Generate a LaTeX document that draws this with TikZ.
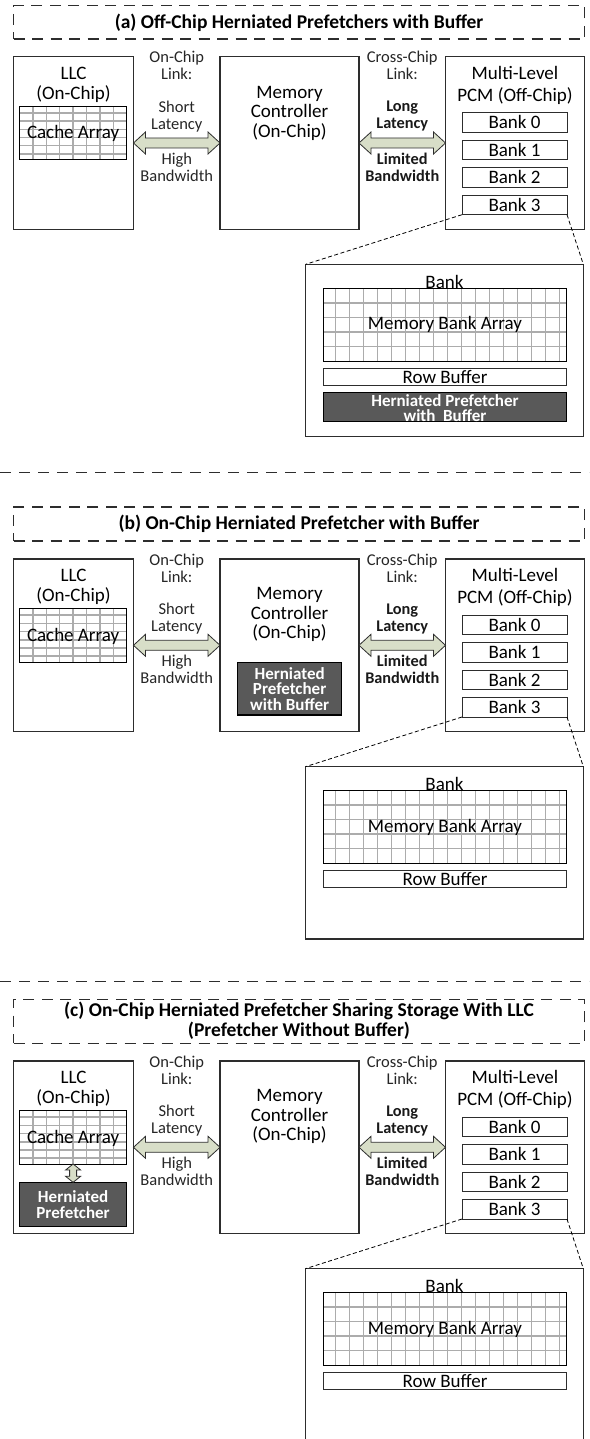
\documentclass[tikz,border=0pt]{standalone}
\usepackage{fontspec}
\setmainfont{Carlito}
\usetikzlibrary{calc,fit}
\definecolor{arrowfill}{RGB}{216,222,200}
\definecolor{darkfill}{RGB}{89,89,89}
\definecolor{outline}{RGB}{45,45,45}
\tikzset{
  box/.style={draw=outline, line width=1.2pt, inner sep=0pt, outer sep=0pt},
  darkbox/.style={box, draw=black, fill=darkfill},
  gridbox/.style={draw=black, line width=1pt, inner sep=0pt, outer sep=0pt},
  gridln/.style={draw=gray!65, line width=1.5pt},
  titlebox/.style={draw=outline, line width=1.4pt, dash pattern=on 11pt off 7.5pt, inner sep=0pt, outer sep=0pt},
  sepln/.style={draw=outline, line width=1.4pt, dash pattern=on 11pt off 8pt},
  zoomln/.style={draw=black, line width=0.8pt, dash pattern=on 4pt off 2.5pt},
  fatarr/.style={draw=outline, line width=0.8pt, fill=arrowfill, line join=miter},
  maintext/.style={inner sep=0pt, align=center, font=\fontsize{19}{20.5}\selectfont},
  linktext/.style={inner sep=0pt, align=center, text=black!85, font=\fontsize{16.5}{17}\selectfont},
  linkbold/.style={inner sep=0pt, align=center, text=black!90, font=\bfseries\fontsize{16.3}{17}\selectfont},
  titletext/.style={inner sep=0pt, align=center, font=\bfseries\fontsize{19.5}{19.5}\selectfont},
  hptext/.style={inner sep=0pt, align=center, text=white, font=\bfseries\fontsize{17}{15.5}\selectfont}
}
\newcommand{\panelbase}[1]{%
  % LLC
  \node[box, fit={(13.5,0) (133.5,172.6)}] (#1llc) {};
  \node[maintext] (#1llct) at (73.5,28) {LLC\\(On-Chip)};
  \foreach \k in {1,...,7} \draw[gridln] (19.5+13.4*\k,49.5) -- (19.5+13.4*\k,103);
  \foreach \h in {6.7,14.9,23.1,31.3,39.5,47.7} \draw[gridln] (19.5,49.5+\h) -- (126.7,49.5+\h);
  \node[gridbox, fit={(19.5,49.5) (126.7,103)}] (#1cache) {};
  \node[maintext] (#1cachet) at (73.1,77) {Cache Array};
  % Memory controller
  \node[box, fit={(220,0) (359,172.6)}] (#1mc) {};
  % PCM
  \node[box, fit={(445.5,0) (584.6,172.6)}] (#1pcm) {};
  \node[maintext, font=\fontsize{19}{22}\selectfont] (#1pcmt) at (515,28.3) {Multi-Level\\PCM (Off-Chip)};
  \foreach \i in {0,1,2,3} {
    \node[box, line width=1pt, fit={(462,56+27.5*\i) (567,75.5+27.5*\i)}] (#1b\i) {};
    \node[maintext] (#1b\i t) at (#1b\i.center) {Bank \i};
  }
  % link texts
  \node[linktext] (#1ol) at (176.75,9) {On-Chip\\Link:};
  \node[linktext] (#1ollat) at (176.75,59.5) {Short\\Latency};
  \node[linktext] (#1olbw) at (176.75,110.3) {High\\Bandwidth};
  \node[linktext] (#1cl) at (402.25,9) {Cross-Chip\\Link:};
  \node[linkbold] (#1cllat) at (402.25,59.5) {Long\\Latency};
  \node[linkbold] (#1clbw) at (402.25,110.3) {Limited\\Bandwidth};
  % bank detail
  \node[box, fit={(305.7,207.6) (583.3,380)}] (#1bank) {};
  \node[maintext] (#1bankt) at (444.5,225) {Bank};
  \foreach \k in {0,...,16} \draw[gridln] (335.7+14*\k,231.6) -- (335.7+14*\k,304.3);
  \foreach \h in {14.5,29,43.5,58} \draw[gridln] (323.3,231.6+\h) -- (566.7,231.6+\h);
  \node[gridbox, fit={(323.3,231.6) (566.7,304.3)}] (#1mba) {};
  \node[maintext] (#1mbat) at (#1mba.center) {Memory Bank Array};
  \node[box, line width=1pt, fit={(323.3,311.6) (566.7,328.3)}] (#1rb) {};
  \node[maintext] (#1rbt) at (#1rb.center) {Row Buffer};
}
\newcommand{\fatarrow}[2]{%
  \draw[fatarr] let \p1=(#1.east), \p2=(#2.west) in
    (\x1,\y1) -- (\x1+12pt,\y1+11pt) -- (\x1+12pt,\y1+5pt) -- (\x2-12pt,\y1+5pt)
    -- (\x2-12pt,\y1+11pt) -- (\x2,\y1) -- (\x2-12pt,\y1-11pt) -- (\x2-12pt,\y1-5pt)
    -- (\x1+12pt,\y1-5pt) -- (\x1+12pt,\y1-11pt) -- cycle;}
\newcommand{\zoomlines}[1]{%
  \draw[zoomln] (#1b3.south west) -- (#1bank.north west);
  \draw[zoomln] (#1b3.south east) -- (#1bank.north east);}
\begin{document}
\begin{tikzpicture}[x=1pt,y=-1pt]
\useasboundingbox[fill=white] (0,0) rectangle (589,1439);
% ---------- (a)
\begin{scope}[yshift=-56.7pt]
  \panelbase{a}
  \node[titlebox, fit={(13.5,-51) (584.6,-17.5)}] (atitle) {};
  \node[titletext] (atitlet) at (atitle.center) {(a) Off-Chip Herniated Prefetchers with Buffer};
  \node[maintext, font=\fontsize{19}{19.3}\selectfont] (amct) at (289.5,56.5) {Memory\\Controller\\(On-Chip)};
  \node[darkbox, fit={(323.3,335.6) (566.7,365)}] (ahp) {};
  \node[hptext, font=\bfseries\fontsize{17}{15.5}\selectfont] (ahpt) at (445,351.3) {Herniated Prefetcher\\with\ \ Buffer};
\end{scope}
\draw[sepln] (0,472.3) -- (589,472.3);
% ---------- (b)
\begin{scope}[yshift=-559pt]
  \panelbase{b}
  \node[titlebox, fit={(13.5,-52) (584.6,-18)}] (btitle) {};
  \node[titletext] (btitlet) at (btitle.center) {(b) On-Chip Herniated Prefetcher with Buffer};
  \node[maintext, font=\fontsize{19}{19.3}\selectfont] (bmct) at (289.5,55.5) {Memory\\Controller\\(On-Chip)};
  \node[darkbox, fit={(237.6,103.3) (341.7,156)}] (bhp) {};
  \node[hptext] (bhpt) at (bhp.center) {Herniated\\Prefetcher\\with Buffer};
\end{scope}
\draw[sepln] (0,981.7) -- (589,981.7);
% ---------- (c)
\begin{scope}[yshift=-1061pt]
  \panelbase{c}
  \node[titlebox, fit={(13.5,-61.7) (584.6,-17.7)}] (ctitle) {};
  \node[titletext] (ctitlet) at (299,-40.4) {(c) On-Chip Herniated Prefetcher Sharing Storage With LLC\\(Prefetcher Without Buffer)};
  \node[maintext, font=\fontsize{19}{19.3}\selectfont] (cmct) at (289.5,55.5) {Memory\\Controller\\(On-Chip)};
  \node[darkbox, fit={(19.5,121.3) (126.7,165.7)}] (chp) {};
  \node[hptext] (chpt) at (chp.center) {Herniated\\Prefetcher};
\end{scope}
% ---------- connectors
\foreach \pn in {a,b,c} {
  \fatarrow{\pn llc}{\pn mc}
  \fatarrow{\pn mc}{\pn pcm}
  \zoomlines{\pn}
}
\draw[fatarr] let \p1=(ccache.south), \p2=(chp.north) in
  (\x1,\y1) -- (\x1+7.5pt,\y1-6pt) -- (\x1+3.5pt,\y1-6pt) -- (\x1+3.5pt,\y2+6pt)
  -- (\x1+7.5pt,\y2+6pt) -- (\x1,\y2) -- (\x1-7.5pt,\y2+6pt) -- (\x1-3.5pt,\y2+6pt)
  -- (\x1-3.5pt,\y1-6pt) -- (\x1-7.5pt,\y1-6pt) -- cycle;
\end{tikzpicture}
\end{document}
